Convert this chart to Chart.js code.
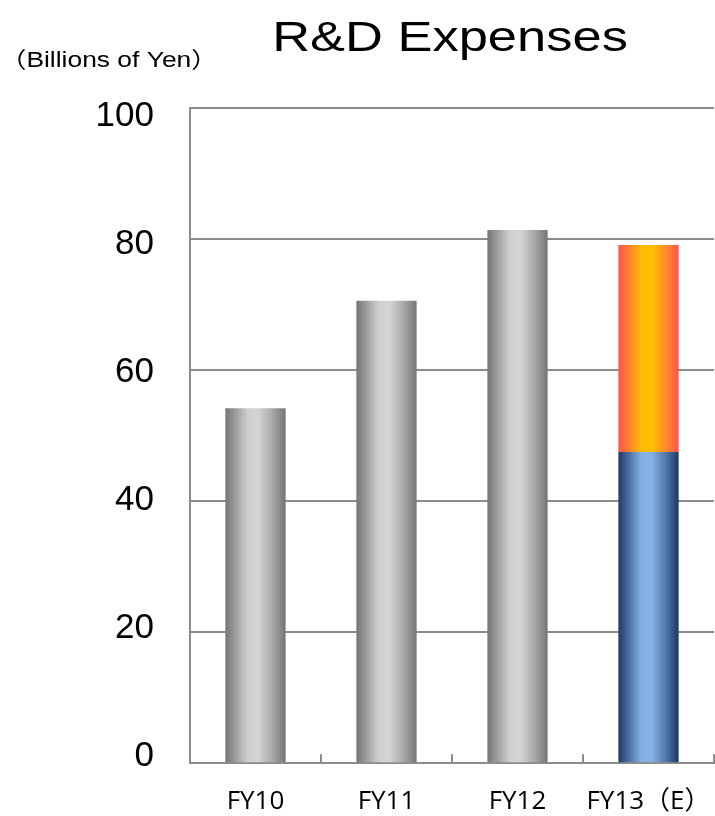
<!DOCTYPE html>
<html>
<head>
<meta charset="utf-8">
<script src="https://cdn.jsdelivr.net/npm/chart.js@4"></script>
<style>
  html, body { margin: 0; padding: 0; background: #ffffff; }
  #wrap { width: 715px; height: 816px; }
</style>
</head>
<body>
<div id="wrap"><canvas id="c" width="715" height="816"></canvas></div>
<script>
// ---- data ----
const categories = ['FY10', 'FY11', 'FY12', 'FY13（E）'];
const resultValues = [54.2, 70.6, 81.4, null];
const planBaseValues = [null, null, null, 47.5];
const planExtraValues = [null, null, null, 31.6];
const yTickValues = [0, 20, 40, 60, 80, 100];
const chartTitle = 'R&D Expenses';
const unitLabel = '（Billions of Yen）';

// ---- styles ----
const BAR_PCT = 0.46;
const GRID = '#8c8c8c';
const grayStops = [[0, '#757575'], [0.38, '#d0d0d0'], [0.55, '#d4d4d4'], [0.8, '#a4a4a4'], [1, '#747474']];
const blueStops = [[0, '#1f3a66'], [0.38, '#84afe3'], [0.55, '#88b2e6'], [0.8, '#4f73a6'], [1, '#1d3863']];
const orangeStops = [[0, '#ff5050'], [0.38, '#ffbb08'], [0.55, '#ffc000'], [0.8, '#ff8a30'], [1, '#ff5050']];

function barGradient(stops, fallback) {
  return function (ctx) {
    const chart = ctx.chart;
    if (!chart.chartArea || ctx.dataIndex === undefined) return fallback;
    const xs = chart.scales.x;
    const cx = xs.getPixelForValue(ctx.dataIndex);
    const half = (xs.width / categories.length) * BAR_PCT / 2;
    const g = chart.ctx.createLinearGradient(cx - half, 0, cx + half, 0);
    stops.forEach(s => g.addColorStop(s[0], s[1]));
    return g;
  };
}

function noPad(s) {
  s.paddingLeft = 0; s.paddingRight = 0; s.paddingTop = 0; s.paddingBottom = 0;
}

const textPlugin = {
  id: 'texts',
  afterDraw(chart) {
    const c = chart.ctx;
    c.save();
    c.fillStyle = '#000';
    c.textBaseline = 'alphabetic';
    // title (horizontally stretched like reference)
    c.font = '43px "Liberation Sans", Arial, sans-serif';
    c.textAlign = 'center';
    c.save();
    c.translate(450, 51);
    c.scale(1.22, 1);
    c.fillText(chartTitle, 0, 0);
    c.restore();
    // unit label
    c.font = '22px "Liberation Sans", Arial, "Noto Sans CJK JP", sans-serif';
    c.textAlign = 'left';
    c.save();
    c.translate(0, 67);
    c.scale(1.2, 1);
    c.fillText(unitLabel, 0, 0);
    c.restore();
    c.restore();
  }
};

new Chart(document.getElementById('c'), {
  type: 'bar',
  data: {
    labels: categories,
    datasets: [
      { label: 'Results', data: resultValues, backgroundColor: barGradient(grayStops, '#b0b0b0') },
      { label: 'Plan base', data: planBaseValues, backgroundColor: barGradient(blueStops, '#5b82bd') },
      { label: 'Plan extra', data: planExtraValues, backgroundColor: barGradient(orangeStops, '#ffa020') }
    ]
  },
  options: {
    responsive: false,
    animation: false,
    devicePixelRatio: 1,
    layout: { padding: { left: 96, top: 108, right: 1, bottom: 0 } },
    datasets: { bar: { barPercentage: BAR_PCT, categoryPercentage: 1, borderWidth: 0 } },
    plugins: { legend: { display: false }, title: { display: false }, tooltip: { enabled: false } },
    scales: {
      x: {
        stacked: true,
        afterFit: s => { s.height = 52.7; noPad(s); },
        grid: { display: true, drawOnChartArea: false, drawTicks: true, tickLength: -9, offset: true, color: GRID, lineWidth: 2 },
        border: { display: true, color: GRID, width: 2 },
        ticks: { color: '#000', padding: 32, font: { family: '"Open Sans", "Noto Sans CJK JP", sans-serif', size: 26 } }
      },
      y: {
        stacked: true,
        position: 'left',
        weight: 0,
        min: 0,
        max: 100,
        afterFit: s => { s.width = 0; noPad(s); },
        ticks: { display: false, stepSize: 20 },
        grid: { color: GRID, lineWidth: 2, drawTicks: false },
        border: { display: true, color: GRID, width: 2 }
      },
      yl: {
        position: 'left',
        weight: 1,
        min: -1.14,
        max: 101.3,
        afterFit: s => { s.width = 94; noPad(s); },
        afterBuildTicks: s => { s.ticks = yTickValues.map(v => ({ value: v })); },
        grid: { display: false, drawTicks: false },
        border: { display: false },
        ticks: { color: '#000', padding: 36, font: { family: '"Liberation Sans", Arial, sans-serif', size: 35 } }
      }
    }
  },
  plugins: [textPlugin]
});
</script>
</body>
</html>
